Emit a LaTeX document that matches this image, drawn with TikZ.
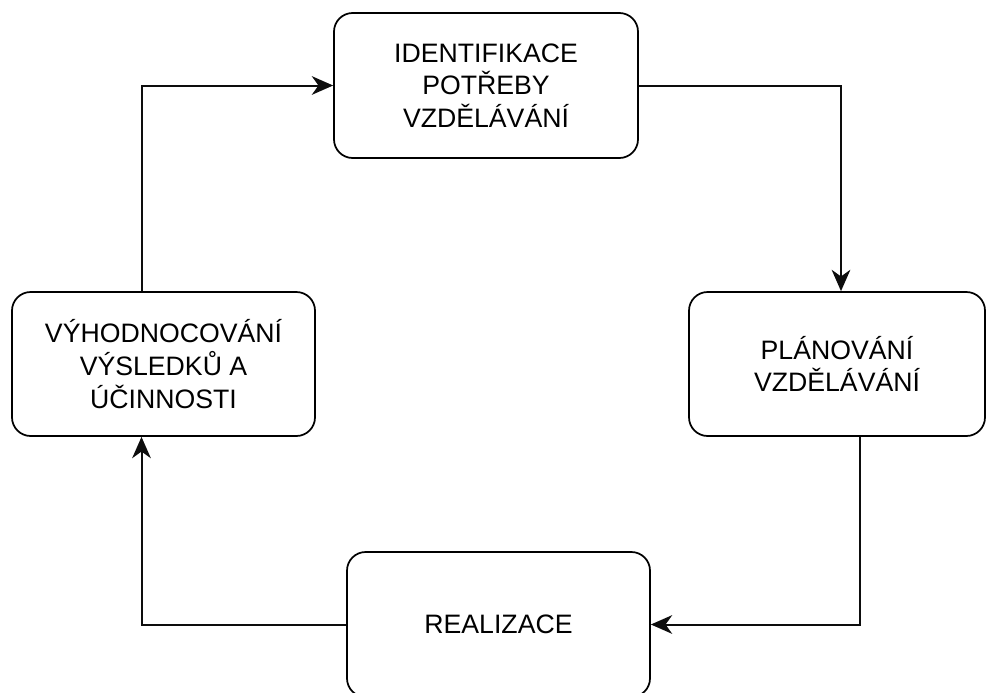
\documentclass[tikz,border=0pt]{standalone}
\usepackage{fontspec}
\setmainfont{Liberation Sans}
\usetikzlibrary{arrows.meta}

\begin{document}
\begin{tikzpicture}[x=0.75pt,y=-0.75pt,>={Stealth[length=16pt,width=14pt,inset=5pt]},
  krok/.style={draw,line width=1.3pt,rounded corners=14pt,align=center,
    font=\fontsize{20}{24.5}\selectfont,text=black},
  spoj/.style={line width=1.5pt,->}]

\definecolor{tmava}{rgb}{0.05,0.05,0.05}

\useasboundingbox(0,0)rectangle(986,693);

\node[krok,minimum width=304*0.75pt,minimum height=145*0.75pt](ident) at (486,85.5)
  {IDENTIFIKACE\\POTŘEBY\\VZDĚLÁVÁNÍ};
\node[krok,minimum width=296*0.75pt,minimum height=144*0.75pt](plan) at (837,364)
  {PLÁNOVÁNÍ\\VZDĚLÁVÁNÍ};
\node[krok,minimum width=303*0.75pt,minimum height=145*0.75pt](real) at (498.5,624.5)
  {REALIZACE};
\node[krok,minimum width=303*0.75pt,minimum height=144*0.75pt](vyhod) at (163.5,364)
  {VÝHODNOCOVÁNÍ\\VÝSLEDKŮ A\\ÚČINNOSTI};

\draw[spoj,tmava](ident.east)-|([xshift=3]plan.north);
\draw[spoj,tmava]([xshift=17]plan.south)|-(real.east);
\draw[spoj,tmava](real.west)-|([xshift=-16.5]vyhod.south);
\draw[spoj,tmava]([xshift=-16.5]vyhod.north)|-(ident.west);

\end{tikzpicture}
\end{document}
